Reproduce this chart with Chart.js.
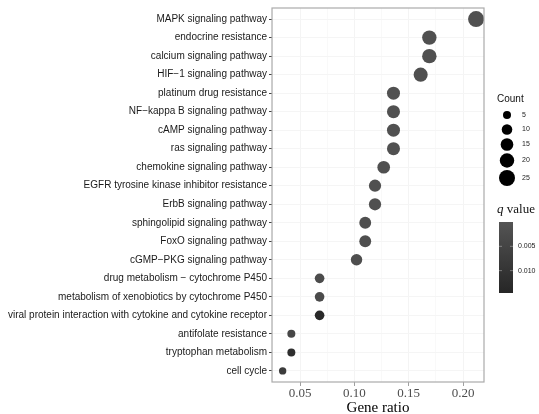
<!DOCTYPE html>
<html>
<head>
<meta charset="utf-8">
<script src="https://cdn.jsdelivr.net/npm/chart.js@4/dist/chart.umd.min.js"></script>
<style>
  html, body { margin: 0; padding: 0; background: #fff; }
  #wrap { width: 539px; height: 414px; }
</style>
</head>
<body>
<div id="wrap"><canvas id="dotChart"></canvas></div>
<script>
// pathway names, top to bottom
const pathways = [
    'MAPK signaling pathway',
    'endocrine resistance',
    'calcium signaling pathway',
    'HIF\u22121 signaling pathway',
    'platinum drug resistance',
    'NF\u2212kappa B signaling pathway',
    'cAMP signaling pathway',
    'ras signaling pathway',
    'chemokine signaling pathway',
    'EGFR tyrosine kinase inhibitor resistance',
    'ErbB signaling pathway',
    'sphingolipid signaling pathway',
    'FoxO signaling pathway',
    'cGMP\u2212PKG signaling pathway',
    'drug metabolism \u2212 cytochrome P450',
    'metabolism of xenobiotics by cytochrome P450',
    'viral protein interaction with cytokine and cytokine receptor',
    'antifolate resistance',
    'tryptophan metabolism',
    'cell cycle'
];
const geneRatio = [0.212, 0.169, 0.169, 0.161, 0.136, 0.136, 0.136, 0.136, 0.127, 0.119,
                   0.119, 0.110, 0.110, 0.102, 0.068, 0.068, 0.068, 0.042, 0.042, 0.034];
const counts = [25, 20, 20, 19, 16, 16, 16, 16, 15, 14, 14, 13, 13, 12, 8, 8, 8, 5, 5, 4];
const qValues = [0.0008, 0.0012, 0.0012, 0.0015, 0.0010, 0.0010, 0.0010, 0.0010, 0.0012, 0.0014,
                 0.0014, 0.0016, 0.0016, 0.0020, 0.0025, 0.0030, 0.0135, 0.0040, 0.0120, 0.0075];
const xTicks = [0.05, 0.10, 0.15, 0.20];
const xMinorTicks = [0.025, 0.075, 0.125, 0.175];
const countLegend = [5, 10, 15, 20, 25];
const qLegendTicks = [0.005, 0.010];

const qMin = 0, qMax = 0.0146;
const colLow = [84, 84, 84], colHigh = [38, 38, 38];

function qColor(q) {
    const t = Math.max(0, Math.min(1, (q - qMin) / (qMax - qMin)));
    const c = colLow.map((v, i) => Math.round(v + (colHigh[i] - v) * t));
    return `rgb(${c[0]},${c[1]},${c[2]})`;
}

function radius(count) {
    return Math.sqrt(4 + 2.4 * count);
}

const legendPlugin = {
    id: 'sideLegend',
    afterDraw(chart) {
        const ctx = chart.ctx;
        const area = chart.chartArea;
        ctx.save();
        // panel border
        ctx.strokeStyle = '#ababab';
        ctx.lineWidth = 1.2;
        ctx.strokeRect(area.left, area.top, area.right - area.left, area.bottom - area.top);

        // size legend
        ctx.fillStyle = '#111';
        ctx.font = '10px "Liberation Sans", Arial, sans-serif';
        ctx.textBaseline = 'middle';
        ctx.fillText('Count', 497, 99);
        const ys = [115, 129.5, 144.5, 160.5, 178];
        countLegend.forEach((c, i) => {
            ctx.beginPath();
            ctx.fillStyle = '#000';
            ctx.arc(507, ys[i], radius(c), 0, Math.PI * 2);
            ctx.fill();
            ctx.fillStyle = '#222';
            ctx.font = '7px "Liberation Sans", Arial, sans-serif';
            ctx.fillText(String(c), 522, ys[i]);
        });

        // q value colour bar
        ctx.textBaseline = 'alphabetic';
        ctx.fillStyle = '#111';
        ctx.font = 'italic 13px "Liberation Serif", "Times New Roman", serif';
        ctx.fillText('q', 497, 213);
        const qw = ctx.measureText('q').width;
        ctx.font = '13px "Liberation Serif", "Times New Roman", serif';
        ctx.fillText(' value', 497 + qw, 213);

        const barX = 499, barW = 14, barTop = 222, barBot = 293;
        const grad = ctx.createLinearGradient(0, barTop, 0, barBot);
        grad.addColorStop(0, qColor(qMin));
        grad.addColorStop(1, qColor(qMax));
        ctx.fillStyle = grad;
        ctx.fillRect(barX, barTop, barW, barBot - barTop);
        ctx.textBaseline = 'middle';
        ctx.font = '7px "Liberation Sans", Arial, sans-serif';
        qLegendTicks.forEach(q => {
            const y = barTop + (q - qMin) / (qMax - qMin) * (barBot - barTop);
            ctx.strokeStyle = 'rgba(255,255,255,0.35)';
            ctx.lineWidth = 1;
            ctx.beginPath();
            ctx.moveTo(barX, y); ctx.lineTo(barX + 3, y);
            ctx.moveTo(barX + barW - 3, y); ctx.lineTo(barX + barW, y);
            ctx.stroke();
            ctx.fillStyle = '#222';
            ctx.fillText(q.toFixed(3), 518, y);
        });
        ctx.restore();
    }
};

document.addEventListener('DOMContentLoaded', function() {
    const ctx = document.getElementById('dotChart').getContext('2d');
    const points = pathways.map((p, i) => ({ x: geneRatio[i], y: i, r: radius(counts[i]) }));

    new Chart(ctx, {
        type: 'bubble',
        data: {
            datasets: [{
                data: points,
                backgroundColor: qValues.map(qColor),
                borderWidth: 0,
                hoverRadius: 0
            }]
        },
        options: {
            responsive: true,
            maintainAspectRatio: false,
            animation: false,
            events: [],
            layout: { padding: { top: 6, right: 55, left: 0, bottom: 0 } },
            plugins: {
                legend: { display: false },
                tooltip: { enabled: false }
            },
            scales: {
                x: {
                    type: 'linear',
                    min: 0.0242,
                    max: 0.2193,
                    afterBuildTicks: axis => {
                        axis.ticks = xTicks.concat(xMinorTicks).map(v => ({ value: v }));
                    },
                    afterFit: axis => { axis.height = 32; },
                    ticks: {
                        autoSkip: false,
                        maxRotation: 0,
                        padding: 0,
                        color: '#4d4d4d',
                        font: { family: '"Liberation Serif", "Times New Roman", serif', size: 13 },
                        callback: v => xTicks.includes(v) ? v.toFixed(2) : ''
                    },
                    grid: {
                        color: ctx => ctx.tick && xTicks.includes(ctx.tick.value) ? '#f4f4f4' : '#f9f9f9',
                        tickColor: ctx => ctx.tick && xTicks.includes(ctx.tick.value) ? '#a0a0a0' : 'rgba(0,0,0,0)',
                        tickLength: 4
                    },
                    border: { display: false },
                    title: {
                        display: true,
                        text: 'Gene ratio',
                        color: '#000',
                        padding: { top: 0, bottom: -3 },
                        font: { family: '"Liberation Serif", "Times New Roman", serif', size: 15 }
                    }
                },
                y: {
                    type: 'linear',
                    reverse: true,
                    min: -0.6,
                    max: pathways.length - 0.4,
                    afterBuildTicks: axis => {
                        axis.ticks = pathways.map((p, i) => ({ value: i }));
                    },
                    afterFit: axis => { axis.width = 272; },
                    ticks: {
                        autoSkip: false,
                        padding: 2,
                        color: '#1a1a1a',
                        font: { family: '"Liberation Sans", Arial, sans-serif', size: 10 },
                        callback: v => pathways[v]
                    },
                    grid: {
                        color: '#f5f5f5',
                        tickColor: '#444',
                        tickLength: 3
                    },
                    border: { display: false }
                }
            }
        },
        plugins: [legendPlugin]
    });
});
</script>
</body>
</html>
